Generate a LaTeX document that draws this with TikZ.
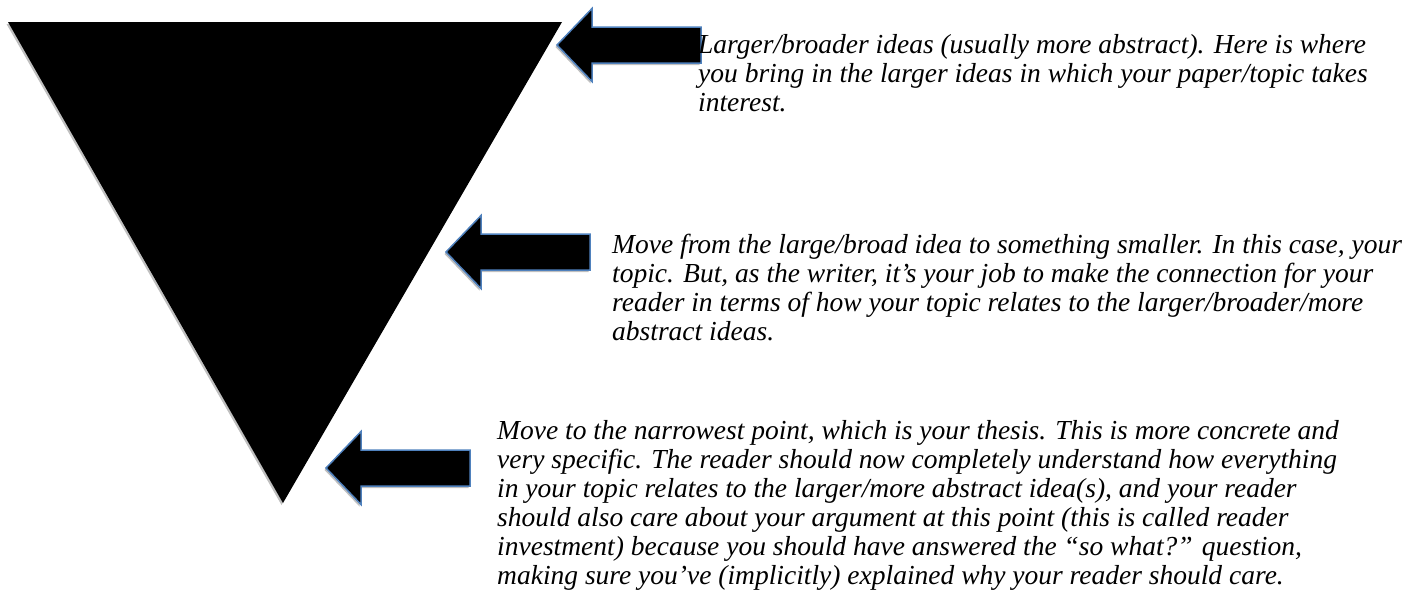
\documentclass[tikz,border=0pt]{standalone}
\usepackage{fontspec}
\setmainfont{Liberation Serif}
\usepackage{xcolor}
\usetikzlibrary{positioning,shadows}
\definecolor{arrowblue}{RGB}{79,129,189}
\tikzset{
  softshadow/.style={drop shadow={shadow xshift=-1.5pt,shadow yshift=-2pt,opacity=.25,fill=black}},
  blockarrow/.style={fill=black,draw=arrowblue,line width=1.5pt,line join=miter,softshadow},
  note/.style={anchor=north west,inner sep=0pt,align=left,font=\fontsize{27.5}{29}\selectfont\itshape},
  pics/bigarrow/.style={code={
    \path[blockarrow] (0,0) -- (35,-36.5) -- (35,-18) -- (#1,-18) -- (#1,18) -- (35,18) -- (35,36.5) -- cycle;
  }}
}
\begin{document}
\begin{tikzpicture}[x=1pt,y=-1pt]
    \useasboundingbox (0,0) rectangle (1417,606);
    % the funnel
    \coordinate (tl) at (8,22);
    \coordinate (tr) at (562,22);
    \coordinate (tip) at (283,503);
    \path[fill=black,softshadow] (tl) -- (tr) -- (tip) -- cycle;
    % arrows
    \pic at (557,45) {bigarrow=144};
    \pic at (446,252) {bigarrow=144};
    \pic at (326,468) {bigarrow=144};
    % notes
    \node[note] (broad) at (698,34) {Larger/broader ideas (usually more abstract). Here is where\\
      you bring in the larger ideas in which your paper/topic takes\\
      interest.};
    \node[note] (topic) at (612,234) {Move from the large/broad idea to something smaller. In this case, your\\
      topic. But, as the writer, it’s your job to make the connection for your\\
      reader in terms of how your topic relates to the larger/broader/more\\
      abstract ideas.};
    \node[note] (thesis) at (497,420) {Move to the narrowest point, which is your thesis. This is more concrete and\\
      very specific. The reader should now completely understand how everything\\
      in your topic relates to the larger/more abstract idea(s), and your reader\\
      should also care about your argument at this point (this is called reader\\
      investment) because you should have answered the “so what?” question,\\
      making sure you’ve (implicitly) explained why your reader should care.};
  \end{tikzpicture}
\end{document}
